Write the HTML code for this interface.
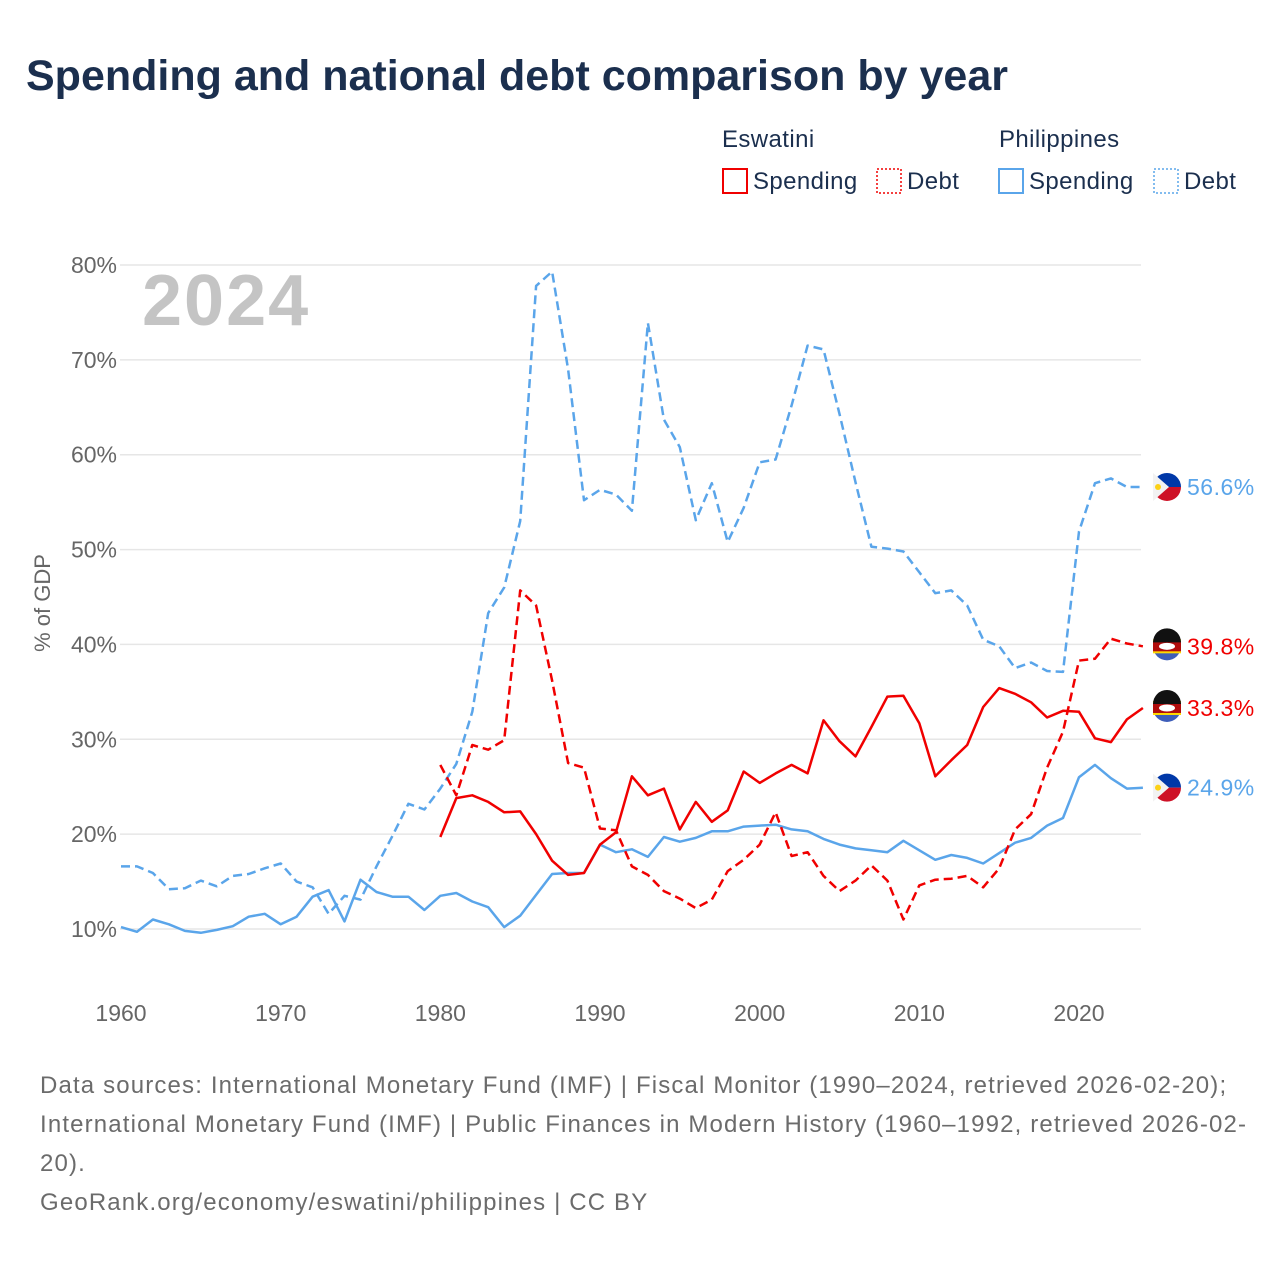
<!DOCTYPE html>
<html><head><meta charset="utf-8"><style>
body{margin:0;background:#fff;font-family:"Liberation Sans",sans-serif}
#wrap{position:relative;width:1280px;height:1280px;overflow:hidden}
h1{position:absolute;left:26px;top:52px;margin:0;font-size:43px;font-weight:bold;color:#1b2f4e;letter-spacing:0px}
.foot{position:absolute;left:40px;top:1066px;font-size:24px;line-height:39px;color:#6b6b6b;width:1220px;letter-spacing:1.15px;white-space:nowrap}
</style></head><body>
<div id="wrap">
<h1>Spending and national debt comparison by year</h1>
<svg id="chart" width="1280" height="1280" style="position:absolute;left:0;top:0"></svg>
<div class="foot">Data sources: International Monetary Fund (IMF) | Fiscal Monitor (1990–2024, retrieved 2026-02-20);<br>International Monetary Fund (IMF) | Public Finances in Modern History (1960–1992, retrieved 2026-02-<br>20).<br>GeoRank.org/economy/eswatini/philippines | CC BY</div>
</div>
<script>
const phSpendYears0 = 1960;
const phSpending = [10.2,9.7,11,10.5,9.8,9.6,9.9,10.3,11.3,11.6,10.5,11.3,13.4,14.1,10.8,15.2,13.9,13.4,13.4,12,13.5,13.8,12.9,12.3,10.2,11.4,13.6,15.8,15.9,15.9,18.9,18.1,18.4,17.6,19.7,19.2,19.6,20.3,20.3,20.8,20.9,21,20.5,20.3,19.5,18.9,18.5,18.3,18.1,19.3,18.3,17.3,17.8,17.5,16.9,18,19.1,19.6,20.9,21.7,26,27.3,25.9,24.8,24.9];
const phDebt = [16.6,16.6,15.9,14.2,14.3,15.1,14.5,15.6,15.8,16.4,16.9,15,14.4,11.6,13.5,13.1,16.6,19.8,23.2,22.6,24.8,27.4,32.9,43.3,46,53,77.8,79.3,69,55.2,56.3,55.8,54.1,73.9,63.7,60.8,53.1,57,50.8,54.4,59.2,59.5,65.2,71.5,71.1,64.3,57.1,50.3,50.1,49.8,47.6,45.4,45.7,44.1,40.5,39.8,37.5,38.1,37.2,37.1,51.9,57,57.5,56.6,56.6];
const esYears0 = 1980;
const esSpending = [19.7,23.8,24.1,23.4,22.3,22.4,20,17.2,15.7,15.9,18.9,20.2,26.1,24.1,24.8,20.5,23.4,21.3,22.5,26.6,25.4,26.4,27.3,26.4,32,29.8,28.2,31.3,34.5,34.6,31.7,26.1,27.8,29.4,33.4,35.4,34.8,33.9,32.3,33,32.9,30.1,29.7,32.1,33.3];
const esDebt = [27.3,24.1,29.4,28.9,29.9,45.7,44.1,36.2,27.5,27,20.6,20.4,16.6,15.7,14,13.2,12.2,13.1,16.1,17.3,18.9,22.3,17.7,18.1,15.6,14,15.1,16.7,15.1,11,14.6,15.2,15.3,15.6,14.4,16.4,20.5,22.1,27,30.8,38.3,38.5,40.6,40.1,39.8];
const yTicks = [10,20,30,40,50,60,70,80];
const xTicks = [1960,1970,1980,1990,2000,2010,2020];

const svg = document.getElementById('chart');
const NS='http://www.w3.org/2000/svg';
const X = yr => 121 + (yr-1960)*(958/60);
const Y = v => 929 - (v-10)*(664/70);
function mk(tag, attrs, parent){const e=document.createElementNS(NS,tag);for(const k in attrs)e.setAttribute(k,attrs[k]);(parent||svg).appendChild(e);return e;}
yTicks.forEach(t=>{
  const l=mk('line',{x1:120,x2:1141,y1:Y(t),y2:Y(t),stroke:'#e6e6e6','stroke-width':1.5});
  
  
  const tx=mk('text',{x:117,y:Y(t)+8,'text-anchor':'end','font-size':23,fill:'#666'});
  tx.textContent=t+'%';
  
  
});
xTicks.forEach(t=>{
  const tx=mk('text',{x:X(t),y:1021,'text-anchor':'middle','font-size':23,fill:'#666'});
  tx.textContent=t;
  
  
});
const yt=mk('text',{x:0,y:0,transform:'translate(50,603) rotate(-90)','text-anchor':'middle','font-size':22,fill:'#666'});
yt.textContent='% of GDP';


const yr=mk('text',{x:142,y:325,'font-size':72,'font-weight':'bold',fill:'#c4c4c4','letter-spacing':2});
yr.textContent='2024';



function line(vals,y0,color,dash,name){
  const pts=vals.map((v,i)=>X(y0+i).toFixed(1)+','+Y(v).toFixed(1)).join(' ');
  const p=mk('polyline',{points:pts,fill:'none',stroke:color,'stroke-width':2.5,'stroke-linejoin':'round'});
  if(dash)p.setAttribute('stroke-dasharray','9,5');
  
  
}
line(phDebt,1960,'#5aa5ea',true,'philippines-debt-line');
line(phSpending,1960,'#5aa5ea',false,'philippines-spending-line');
line(esDebt,1980,'#f00000',true,'eswatini-debt-line');
line(esSpending,1980,'#f00000',false,'eswatini-spending-line');

function flag(v,country,color,label,name){
  const cx=1167, cy=Y(v);
  const g=mk('g',{});
  
  
  if(country==='ph'){
    mk('path',{d:`M${cx-14},${cy} A14,14 0 0,1 ${cx+14},${cy} Z`,fill:'#0038a8'},g);
    mk('path',{d:`M${cx-14},${cy} A14,14 0 0,0 ${cx+14},${cy} Z`,fill:'#ce1126'},g);
    mk('polygon',{points:`${cx-14},${cy-14} ${cx+2},${cy} ${cx-14},${cy+14}`,fill:'#f2f2f2'},g);
    mk('circle',{cx:cx-9,cy:cy,r:3,fill:'#fcd116'},g);
  } else {
    mk('circle',{cx:cx,cy:cy,r:14,fill:'#3e5eb9'},g);
    mk('rect',{x:cx-14,y:cy-7,width:28,height:14,fill:'#ffd900'},g);
    mk('rect',{x:cx-14,y:cy-5,width:28,height:10,fill:'#b10c0c'},g);
    mk('path',{d:`M${cx-14},${cy-4} A14,14 0 0,1 ${cx+14},${cy-4} Z`,fill:'#111'},g);
    mk('ellipse',{cx:cx,cy:cy,rx:8,ry:3.5,fill:'#fff'},g);
  }
  const t=mk('text',{x:1187,y:cy+8,'font-size':23,fill:color,'letter-spacing':0.5},g);
  t.textContent=label;
}
flag(phDebt[phDebt.length-1],'ph','#5aa5ea',phDebt[phDebt.length-1].toFixed(1)+'%','flag-label-philippines-debt');
flag(esDebt[esDebt.length-1],'es','#f00000',esDebt[esDebt.length-1].toFixed(1)+'%','flag-label-eswatini-debt');
flag(esSpending[esSpending.length-1],'es','#f00000',esSpending[esSpending.length-1].toFixed(1)+'%','flag-label-eswatini-spending');
flag(phSpending[phSpending.length-1],'ph','#5aa5ea',phSpending[phSpending.length-1].toFixed(1)+'%','flag-label-philippines-spending');

function legTitle(x,txt,name){const t=mk('text',{x:x,y:147,'font-size':24,fill:'#1b2f4e','letter-spacing':0.4});t.textContent=txt;}
legTitle(722,'Eswatini','legend-title-eswatini');
legTitle(999,'Philippines','legend-title-philippines');
function legEntry(x,color,dotted,txt,name){
  const g=mk('g',{});
  
  
  const r=mk('rect',{x:x,y:169,width:24,height:24,fill:'none',stroke:color,'stroke-width':dotted?1.5:2},g);
  if(dotted)r.setAttribute('stroke-dasharray','2,2');
  const t=mk('text',{x:x+30,y:189,'font-size':24,fill:'#1b2f4e','letter-spacing':0.4},g);
  t.textContent=txt;
}
legEntry(723,'#f00000',false,'Spending','legend-eswatini-spending');
legEntry(877,'#f00000',true,'Debt','legend-eswatini-debt');
legEntry(999,'#5aa5ea',false,'Spending','legend-philippines-spending');
legEntry(1154,'#5aa5ea',true,'Debt','legend-philippines-debt');
</script>
</body></html>
